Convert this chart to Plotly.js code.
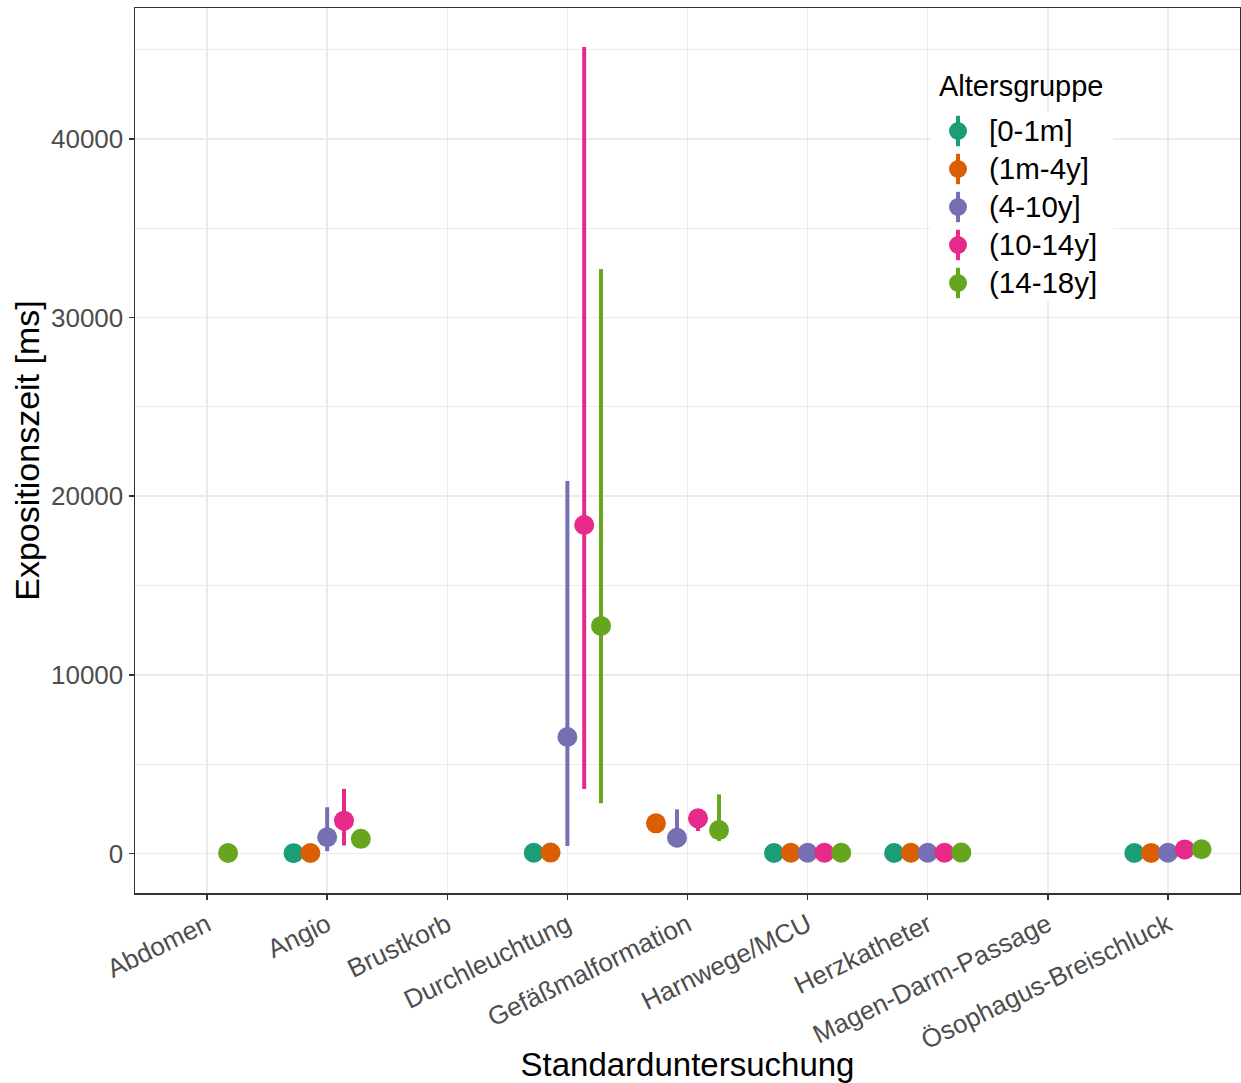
<!DOCTYPE html>
<html>
<head>
<meta charset="utf-8">
<script src="https://cdn.plot.ly/plotly-3.0.1.min.js"></script>
<style>
  html, body { margin: 0; padding: 0; background: #ffffff; }
  #chart { width: 1241px; height: 1083px; }
</style>
</head>
<body>
<div id="chart"></div>
<script>
// Examination types on the x axis
const categories = [
  "Abdomen", "Angio", "Brustkorb", "Durchleuchtung", "Gefäßmalformation",
  "Harnwege/MCU", "Herzkatheter", "Magen-Darm-Passage", "Ösophagus-Breischluck"
];

// Age groups (legend order)
const groups = ["[0-1m]", "(1m-4y]", "(4-10y]", "(10-14y]", "(14-18y]"];
const groupColors = ["#1B9E77", "#D95F02", "#7570B3", "#E7298A", "#66A61E"];

// Exposure time [ms] per age group: mean, lower and upper bound.
// null = no row for that examination, NaN = row present but no value.
const mean_0_1m   = [NaN,  20, null,    40, null,   30,  30, null,  30];
const lower_0_1m  = [NaN,   0, null,    10, null,   10,  10, null,  10];
const upper_0_1m  = [NaN,  40, null,    70, null,   50,  50, null,  50];

const mean_1m_4y  = [null,  30, null,    50, 1690,   40,  40, null,  35];
const lower_1m_4y = [null,  10, null,    20, 1500,   20,  20, null,  15];
const upper_1m_4y = [null,  50, null,    80, 1900,   60,  60, null,  55];

const mean_4_10y  = [null, 910, null,  6520,  880,   40,  40, null,  40];
const lower_4_10y = [null, 130, null,   420,  350,   20,  20, null,  20];
const upper_4_10y = [null, 2590, null, 20850, 2470,  60,  60, null,  60];

const mean_10_14y  = [null, 1840, null, 18390, 1970,  40,  40, null, 230];
const lower_10_14y = [null,  450, null,  3610, 1260,  20,  20, null, 150];
const upper_10_14y = [null, 3620, null, 45150, 2400,  60,  60, null, 310];

const mean_14_18y  = [30,  820, null, 12740, 1310,   40,  50, null, 240];
const lower_14_18y = [10,  600, null,  2810,  700,   20,  30, null, 160];
const upper_14_18y = [50, 1050, null, 32720, 3310,   60,  70, null, 320];

const means  = [mean_0_1m,  mean_1m_4y,  mean_4_10y,  mean_10_14y,  mean_14_18y];
const lowers = [lower_0_1m, lower_1m_4y, lower_4_10y, lower_10_14y, lower_14_18y];
const uppers = [upper_0_1m, upper_1m_4y, upper_4_10y, upper_10_14y, upper_14_18y];

// Dodge the points of one examination side by side (total width 0.7)
const dodgeWidth = 0.7;
function dodgeX(catIdx, groupIdx) {
  const present = [];
  for (let g = 0; g < groups.length; g++) {
    if (means[g][catIdx] !== null) present.push(g);
  }
  const n = present.length;
  const k = present.indexOf(groupIdx);
  const step = dodgeWidth / n;
  return catIdx - dodgeWidth / 2 + step * (k + 0.5);
}

const FONT = "Liberation Sans, Arial, sans-serif";

// Point-range traces on the main axes
const traces = groups.map((name, g) => {
  const xs = [], ys = [], up = [], dn = [];
  categories.forEach((c, i) => {
    const m = means[g][i];
    if (m === null || Number.isNaN(m)) return;
    xs.push(dodgeX(i, g));
    ys.push(m);
    up.push(uppers[g][i] - m);
    dn.push(m - lowers[g][i]);
  });
  return {
    type: "scatter",
    mode: "markers",
    name: name,
    x: xs,
    y: ys,
    marker: { color: groupColors[g], size: 20, line: { width: 0 } },
    error_y: {
      type: "data", symmetric: false, array: up, arrayminus: dn,
      color: groupColors[g], thickness: 4, width: 0
    },
    showlegend: false,
    hoverinfo: "x+y+name"
  };
});

// Legend keys: a small point-range glyph per age group, drawn on an inset axis pair
// (x in pixels across the key box, y = row index)
const keyX = 28, labelX = 59, labelDrop = 0.08;
groups.forEach((g, i) => {
  traces.push({
    type: "scatter", mode: "markers",
    xaxis: "x2", yaxis: "y2",
    x: [keyX], y: [i],
    marker: { color: groupColors[i], size: 18, line: { width: 0 } },
    error_y: { type: "constant", value: 0.4, symmetric: true, thickness: 4, width: 0, color: groupColors[i] },
    showlegend: false, hoverinfo: "skip"
  });
});
traces.push({
  type: "scatter",
  mode: "text",
  xaxis: "x2", yaxis: "y2",
  x: groups.map(() => labelX),
  y: groups.map((g, i) => i + labelDrop),
  text: groups,
  textposition: "middle right",
  textfont: { family: FONT, size: 29.5, color: "#000000" },
  showlegend: false, hoverinfo: "skip"
});

const P0 = 135, PW = 1105, PB = 893, PH = 885; // plot-area pixel frame
const layout = {
  width: 1241,
  height: 1083,
  margin: { l: 135, r: 1, t: 8, b: 190 },
  paper_bgcolor: "#ffffff",
  plot_bgcolor: "#ffffff",
  font: { family: FONT, color: "#000000" },
  showlegend: false,
  xaxis: {
    range: [-0.6, 8.6],
    tickmode: "array",
    tickvals: categories.map((c, i) => i),
    ticktext: categories,
    tickangle: -26,
    tickfont: { family: FONT, size: 26, color: "#4D4D4D" },
    ticks: "outside", ticklen: 5, tickwidth: 1.5, tickcolor: "#333333",
    showgrid: true, gridcolor: "#EBEBEB", gridwidth: 1.5,
    zeroline: false,
    showline: true, mirror: true, linecolor: "#333333", linewidth: 1.5,
    title: { text: "Standarduntersuchung", font: { family: FONT, size: 33, color: "#000000" }, standoff: 8 }
  },
  yaxis: {
    range: [-2211, 47332],
    tickmode: "linear", tick0: 0, dtick: 10000,
    tickformat: "d",
    tickfont: { family: FONT, size: 26, color: "#4D4D4D" },
    ticks: "outside", ticklen: 5, tickwidth: 1.5, tickcolor: "#333333",
    showgrid: true, gridcolor: "#EBEBEB", gridwidth: 1.5,
    minor: { dtick: 5000, tick0: 0, showgrid: true, gridcolor: "#EBEBEB", gridwidth: 1, ticks: "" },
    zeroline: false,
    showline: true, mirror: true, linecolor: "#333333", linewidth: 1.5,
    title: { text: "Expositionszeit [ms]", font: { family: FONT, size: 34, color: "#000000" }, standoff: 1 }
  },
  xaxis2: {
    domain: [(930 - P0) / PW, (1113 - P0) / PW],
    range: [0, 183],
    anchor: "y2",
    visible: false, fixedrange: true
  },
  yaxis2: {
    domain: [(PB - 302) / PH, (PB - 112) / PH],
    range: [4.5, -0.5],
    anchor: "x2",
    visible: false, fixedrange: true
  },
  annotations: [{
    text: "Altersgruppe",
    xref: "paper", yref: "paper",
    x: (937 - P0) / PW, y: (PB - 86) / PH, xanchor: "left", yanchor: "middle",
    showarrow: false,
    font: { family: FONT, size: 29, color: "#000000" }
  }]
};

Plotly.newPlot("chart", traces, layout, { displayModeBar: false, staticPlot: true });
</script>
</body>
</html>
